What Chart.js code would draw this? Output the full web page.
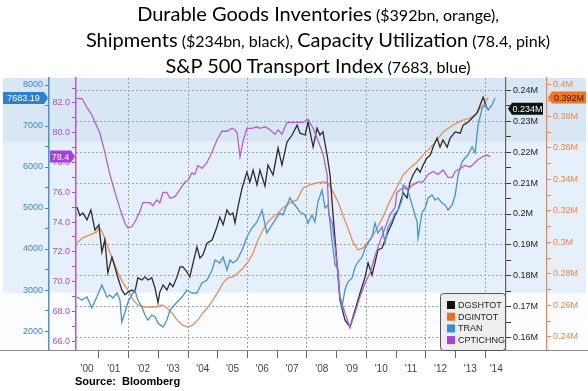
<!DOCTYPE html>
<html>
<head>
<meta charset="utf-8">
<script src="https://cdn.jsdelivr.net/npm/chart.js@4.4.0/dist/chart.umd.min.js"></script>
<style>
html, body { margin: 0; padding: 0; background: #fff; overflow: hidden; }
#wrap { position: relative; width: 588px; height: 391px; }
#chart { position: absolute; left: 0; top: 0; }
#title { position: absolute; left: 48px; top: 1px; width: 540px; text-align: center; white-space: nowrap;
         font-family: Lato, "Open Sans", sans-serif; color: #000; line-height: 25px; }
#title .big { font-size: 20px; }
#title .small { font-size: 16px; }
#source { position: absolute; left: 75px; top: 375px; font: bold 11px "Liberation Sans", Arial, sans-serif; color: #000; }
</style>
</head>
<body>
<div id="wrap">
  <canvas id="chart" width="588" height="391"></canvas>
  <div id="title">
    <div><span class="big">Durable Goods Inventories</span> <span class="small">($392bn, orange),</span></div>
    <div><span class="big">Shipments</span> <span class="small">($234bn, black),</span> <span class="big">Capacity Utilization</span> <span class="small">(78.4, pink)</span></div>
    <div><span class="big">S&amp;P 500 Transport Index</span> <span class="small">(7683, blue)</span></div>
  </div>
  <div id="source">Source:&nbsp; Bloomberg</div>
</div>

<script>
// ----------------------------
// data (dates as decimal years)
// ----------------------------

// DGSHTOT - durable goods shipments, $bn
const shipDates = [
  2000.26, 2000.36, 2000.46, 2000.60, 2000.73, 2000.87, 2001.00, 2001.10, 2001.20, 2001.30,
  2001.44, 2001.54, 2001.64, 2001.77, 2001.88, 2001.98, 2002.11, 2002.21, 2002.31, 2002.45,
  2002.55, 2002.65, 2002.78, 2002.89, 2002.99, 2003.05, 2003.16, 2003.29, 2003.39, 2003.49,
  2003.63, 2003.73, 2003.83, 2003.96, 2004.06, 2004.17, 2004.30, 2004.40, 2004.50, 2004.64,
  2004.81, 2004.97, 2005.07, 2005.18, 2005.31, 2005.41, 2005.51, 2005.58, 2005.68, 2005.82,
  2005.98, 2006.08, 2006.19, 2006.32, 2006.42, 2006.59, 2006.69, 2006.86, 2007.03, 2007.16,
  2007.33, 2007.50, 2007.67, 2007.77, 2007.94, 2008.04, 2008.21, 2008.34, 2008.44, 2008.54,
  2008.68, 2008.78, 2008.88, 2009.01, 2009.11, 2009.28, 2009.45, 2009.62, 2009.79, 2009.96,
  2010.06, 2010.19, 2010.29, 2010.39, 2010.53, 2010.63, 2010.73, 2010.87, 2010.97, 2011.07,
  2011.24, 2011.37, 2011.47, 2011.57, 2011.71, 2011.81, 2011.91, 2012.04, 2012.15, 2012.25,
  2012.38, 2012.48, 2012.58, 2012.72, 2012.82, 2012.99, 2013.16, 2013.26, 2013.39, 2013.56,
  2013.73, 2013.83, 2013.93, 2014.00, 2014.06
];
const shipValues = [
  202.3, 199.5, 200.3, 198.1, 201.3, 194.8, 196.5, 187.7, 191.6, 181.0,
  186.1, 182.9, 179.4, 175.5, 173.9, 174.8, 175.5, 174.8, 179.4, 178.7,
  179.7, 178.7, 179.4, 176.1, 171.3, 174.8, 177.1, 175.5, 177.7, 176.5,
  179.7, 182.9, 182.9, 181.3, 179.7, 184.2, 189.4, 185.8, 186.8, 190.6,
  191.6, 195.8, 199.0, 196.5, 201.3, 199.7, 200.3, 197.1, 202.3, 208.4,
  213.5, 210.3, 214.2, 209.4, 214.2, 209.0, 215.8, 212.6, 221.3, 215.8,
  223.2, 225.5, 228.7, 226.1, 225.5, 229.7, 221.6, 227.7, 225.5, 226.5,
  219.0, 212.6, 199.7, 184.5, 172.3, 165.8, 163.5, 169.0, 174.5, 179.7,
  184.2, 180.3, 184.2, 188.4, 189.0, 191.6, 194.2, 197.1, 199.7, 201.3,
  206.8, 205.2, 210.3, 212.6, 214.8, 213.5, 215.8, 218.1, 219.0, 221.6,
  224.5, 221.6, 223.9, 221.6, 224.5, 226.5, 226.1, 228.7, 229.4, 231.0,
  232.6, 235.2, 237.7, 235.8, 234.0
];

// DGINTOT - durable goods inventories, $bn
const invDates = [
  2000.26, 2000.46, 2000.70, 2000.93, 2001.03, 2001.13, 2001.30, 2001.47, 2001.64, 2001.81,
  2001.98, 2002.15, 2002.31, 2002.55, 2002.78, 2002.95, 2003.12, 2003.29, 2003.46, 2003.63,
  2003.80, 2004.00, 2004.17, 2004.33, 2004.50, 2004.67, 2004.84, 2005.01, 2005.18, 2005.34,
  2005.51, 2005.68, 2005.85, 2006.02, 2006.19, 2006.35, 2006.52, 2006.69, 2006.86, 2007.03,
  2007.19, 2007.43, 2007.67, 2007.87, 2008.10, 2008.34, 2008.54, 2008.71, 2008.88, 2009.05,
  2009.21, 2009.38, 2009.55, 2009.72, 2009.89, 2010.06, 2010.23, 2010.39, 2010.56, 2010.73,
  2010.90, 2011.07, 2011.24, 2011.47, 2011.71, 2011.91, 2012.15, 2012.38, 2012.58, 2012.82,
  2013.05, 2013.26, 2013.49, 2013.66, 2013.83, 2014.00, 2014.10
];
const invValues = [
  299.7, 302.9, 304.8, 306.7, 309.2, 306.0, 297.1, 288.9, 280.6, 274.3,
  269.8, 263.5, 260.3, 259.0, 259.0, 259.0, 260.3, 258.4, 255.2, 250.8,
  247.6, 246.3, 247.6, 250.8, 255.2, 259.0, 263.5, 268.6, 274.3, 277.5,
  278.1, 280.6, 283.8, 287.6, 293.3, 301.6, 307.9, 313.0, 316.2, 318.7,
  321.9, 325.1, 327.0, 334.6, 336.5, 337.8, 338.4, 337.8, 332.1, 325.7,
  317.5, 309.2, 300.3, 295.2, 296.5, 300.3, 304.8, 309.8, 316.2, 323.8,
  330.2, 336.5, 342.9, 347.3, 351.1, 355.6, 360.0, 365.1, 370.2, 373.3,
  375.9, 377.8, 379.0, 381.0, 385.4, 388.6, 392.0
];

// TRAN - S&P 500 transport index
const tranDates = [
  2000.26, 2000.43, 2000.60, 2000.76, 2000.93, 2001.10, 2001.27, 2001.37, 2001.47, 2001.61,
  2001.71, 2001.77, 2001.88, 2001.98, 2002.11, 2002.21, 2002.31, 2002.45, 2002.55, 2002.65,
  2002.78, 2002.89, 2002.99, 2003.16, 2003.29, 2003.39, 2003.49, 2003.63, 2003.80, 2003.96,
  2004.13, 2004.30, 2004.47, 2004.64, 2004.81, 2004.91, 2005.07, 2005.18, 2005.31, 2005.41,
  2005.51, 2005.65, 2005.82, 2005.98, 2006.15, 2006.32, 2006.49, 2006.65, 2006.82, 2006.99,
  2007.09, 2007.19, 2007.43, 2007.53, 2007.60, 2007.77, 2007.94, 2008.04, 2008.17, 2008.27,
  2008.37, 2008.51, 2008.61, 2008.71, 2008.85, 2008.95, 2009.05, 2009.11, 2009.18, 2009.28,
  2009.38, 2009.52, 2009.62, 2009.72, 2009.86, 2009.96, 2010.06, 2010.19, 2010.29, 2010.39,
  2010.53, 2010.63, 2010.73, 2010.87, 2010.97, 2011.07, 2011.20, 2011.24, 2011.37, 2011.47,
  2011.57, 2011.71, 2011.74, 2011.88, 2011.98, 2012.08, 2012.21, 2012.31, 2012.41, 2012.55,
  2012.65, 2012.75, 2012.89, 2012.99, 2013.09, 2013.22, 2013.32, 2013.42, 2013.56, 2013.66,
  2013.76, 2013.90, 2014.00, 2014.10, 2014.23, 2014.33
];
const tranValues = [
  2829, 2756, 2829, 2561, 2829, 3122, 2829, 2878, 2805, 2927,
  2756, 2220, 2463, 2707, 2878, 3000, 2756, 2585, 2390, 2268,
  2390, 2341, 2195, 2098, 2268, 2512, 2585, 2707, 2829, 3000,
  2927, 2927, 3171, 3244, 3488, 3732, 3659, 3805, 3488, 3732,
  3659, 3732, 3976, 4293, 4512, 4659, 4951, 4390, 4585, 4780,
  4878, 4829, 5250, 5122, 5073, 4902, 4829, 4634, 4829, 4659,
  5146, 5439, 5000, 5073, 4171, 3610, 3500, 2829, 2585, 3000,
  3195, 3293, 3561, 3683, 3805, 4024, 4146, 4293, 4634, 4390,
  4537, 4146, 4537, 4707, 4878, 4951, 5195, 5561, 5488, 5244,
  5000, 4659, 4268, 4902, 5000, 5244, 5317, 5195, 5244, 5122,
  5073, 4951, 5073, 5317, 5805, 6122, 6220, 6293, 6488, 6341,
  7024, 7439, 7512, 7390, 7512, 7683.19
];

// CPTICHNG - capacity utilization, %
const capDates = [
  2000.26, 2000.43, 2000.60, 2000.76, 2001.03, 2001.20, 2001.37, 2001.54, 2001.71, 2001.88,
  2001.98, 2002.11, 2002.21, 2002.38, 2002.48, 2002.62, 2002.72, 2002.82, 2002.95, 2003.05,
  2003.16, 2003.29, 2003.39, 2003.56, 2003.73, 2003.90, 2004.00, 2004.13, 2004.23, 2004.33,
  2004.47, 2004.64, 2004.81, 2004.97, 2005.14, 2005.31, 2005.48, 2005.58, 2005.65, 2005.75,
  2005.85, 2005.98, 2006.15, 2006.32, 2006.42, 2006.59, 2006.76, 2006.93, 2007.03, 2007.16,
  2007.33, 2007.50, 2007.70, 2007.87, 2008.04, 2008.21, 2008.37, 2008.54, 2008.68, 2008.74,
  2008.85, 2008.95, 2009.05, 2009.11, 2009.28, 2009.45, 2009.62, 2009.79, 2009.96, 2010.13,
  2010.29, 2010.46, 2010.63, 2010.80, 2010.97, 2011.03, 2011.24, 2011.40, 2011.57, 2011.74,
  2011.91, 2012.08, 2012.25, 2012.41, 2012.58, 2012.75, 2012.89, 2012.99, 2013.16, 2013.32,
  2013.49, 2013.66, 2013.76, 2013.93, 2014.06, 2014.17
];
const capValues = [
  82.3, 82.3, 81.7, 81.2, 80.0, 78.7, 77.2, 76.0, 74.9, 73.9,
  73.6, 73.7, 74.0, 74.7, 75.3, 75.3, 75.3, 75.1, 75.5, 75.3,
  76.0, 76.0, 75.6, 75.7, 76.2, 76.7, 76.8, 77.3, 77.2, 77.8,
  77.6, 78.0, 78.7, 79.5, 80.1, 80.1, 80.3, 80.2, 80.0, 78.4,
  79.4, 80.3, 80.3, 80.4, 80.3, 80.4, 80.2, 79.9, 80.2, 79.9,
  80.7, 80.7, 80.7, 80.7, 80.9, 80.3, 79.5, 78.6, 77.2, 74.5,
  73.9, 72.3, 70.4, 69.0, 67.9, 66.9, 67.9, 69.0, 69.9, 70.6,
  71.7, 72.7, 73.6, 74.5, 75.0, 76.0, 76.3, 76.2, 76.5, 76.7,
  76.7, 77.2, 77.4, 77.2, 77.5, 77.0, 77.0, 77.4, 77.6, 77.8,
  77.7, 78.0, 78.2, 78.4, 78.5, 78.4
];

// axis ticks
const yearTicks = [2001, 2002, 2003, 2004, 2005, 2006, 2007, 2008, 2009, 2010, 2011, 2012, 2013, 2014];
const xLabels = ["'00", "'01", "'02", "'03", "'04", "'05", "'06", "'07", "'08", "'09", "'10", "'11", "'12", "'13", "'14"];
const xLabelPos = [2000.6, 2001.5, 2002.5, 2003.5, 2004.5, 2005.5, 2006.5, 2007.5, 2008.5, 2009.5, 2010.5, 2011.5, 2012.5, 2013.5, 2014.37];
const tranTicks = [2000, 3000, 4000, 5000, 6000, 7000, 8000];
const capTicks = [66, 68, 70, 72, 74, 76, 78, 80, 82];
const shipTicks = [160, 170, 180, 190, 200, 210, 220, 230, 240];
const invTicks = [240, 260, 280, 300, 320, 340, 360, 380, 400];

// ----------------------------
// helpers
// ----------------------------

const toPoints = (dates, values) => dates.map((d, i) => ({ x: d, y: values[i] }));

// majors plus a minor tick half way between
function setTicks(scale, majors) {
  const step = majors[1] - majors[0];
  const out = [];
  majors.forEach(v => {
    out.push({ value: v });
    out.push({ value: v + step / 2 });
  });
  scale.ticks = out.filter(t => t.value >= scale.min && t.value <= scale.max);
}

const tickFont = { family: "Liberation Sans", size: 9 };
const clear = "rgba(0,0,0,0)";

// ----------------------------
// plugins: background bands, value tags, legend box
// ----------------------------

const bands = {
  id: "bands",
  beforeDraw(chart) {
    const { ctx, chartArea: a } = chart;
    const h = a.bottom - a.top;
    ctx.save();
    ctx.fillStyle = "#d9e7f4";
    ctx.fillRect(3, a.top, 583, h * 0.235);
    ctx.fillStyle = "#e6f0fa";
    ctx.fillRect(3, a.top + h * 0.235, 583, h * 0.555);
    ctx.fillStyle = "#fbfdff";
    ctx.fillRect(3, a.top + h * 0.79, 583, h * 0.21);
    ctx.restore();
  },
  afterDraw(chart) {
    const { ctx, chartArea: a } = chart;
    ctx.save();
    ctx.strokeStyle = "#8a8a8a";
    ctx.lineWidth = 1;
    ctx.beginPath();
    ctx.moveTo(0, a.bottom + 0.5);
    ctx.lineTo(588, a.bottom + 0.5);
    ctx.stroke();
    ctx.restore();
  }
};

function tag(ctx, text, tip, far, y, fill, color) {
  const h = 12, p = 4, dir = far < tip ? -1 : 1;
  ctx.save();
  ctx.fillStyle = fill;
  ctx.beginPath();
  ctx.moveTo(tip, y);
  ctx.lineTo(tip + dir * p, y - h / 2);
  ctx.lineTo(far, y - h / 2);
  ctx.lineTo(far, y + h / 2);
  ctx.lineTo(tip + dir * p, y + h / 2);
  ctx.closePath();
  ctx.fill();
  ctx.fillStyle = color;
  ctx.font = "9px 'Liberation Sans'";
  ctx.textAlign = "center";
  ctx.textBaseline = "middle";
  ctx.fillText(text, (tip + dir * p + far) / 2, y + 0.5);
  ctx.restore();
}

const tags = {
  id: "tags",
  afterDraw(chart) {
    const ctx = chart.ctx, s = chart.scales;
    const lastTran = tranValues[tranValues.length - 1];
    const lastCap = capValues[capValues.length - 1];
    const lastShip = shipValues[shipValues.length - 1];
    const lastInv = invValues[invValues.length - 1];
    tag(ctx, lastTran.toFixed(2), s.yTran.right - 1, s.yTran.left, s.yTran.getPixelForValue(lastTran), "#2c80d8", "#fff");
    tag(ctx, lastCap.toFixed(1), s.yCap.right - 1, s.yCap.left + 1, s.yCap.getPixelForValue(lastCap), "#a63fe0", "#fff");
    tag(ctx, (lastShip / 1000) + "M", s.yShip.left + 2, s.yShip.left + 37, s.yShip.getPixelForValue(lastShip), "#111", "#fff");
    tag(ctx, (lastInv / 1000) + "M", s.yInv.left + 1, s.yInv.left + 39, s.yInv.getPixelForValue(lastInv), "#f0781c", "#3a1400");
  }
};

const legendColors = ["#111111", "#ec6f1c", "#2f8fe6", "#a83fe0"];

const legendBox = {
  id: "legendBox",
  afterDraw(chart) {
    const { ctx, chartArea: a } = chart;
    const w = 66, h = 57;
    const x = a.right - w, y = a.bottom - h;
    ctx.save();
    ctx.fillStyle = "#eeeeee";
    ctx.strokeStyle = "#555";
    ctx.lineWidth = 1;
    ctx.beginPath();
    ctx.roundRect(x + 0.5, y + 0.5, w - 1, h, 3);
    ctx.fill();
    ctx.stroke();
    ctx.font = "9px 'Liberation Sans'";
    ctx.textBaseline = "middle";
    chart.data.datasets.forEach((ds, i) => {
      const cy = y + 12 + i * 11.7;
      ctx.fillStyle = legendColors[i];
      ctx.fillRect(x + 7, cy - 4, 8, 8);
      ctx.fillStyle = "#222";
      ctx.fillText(ds.label, x + 18, cy + 0.5);
    });
    ctx.restore();
  }
};

// ----------------------------
// chart
// ----------------------------

new Chart(document.getElementById("chart"), {
  type: "line",
  data: {
    datasets: [
      { label: "DGSHTOT", data: toPoints(shipDates, shipValues), yAxisID: "yShip", borderColor: "#2b2b2b", order: 2 },
      { label: "DGINTOT", data: toPoints(invDates, invValues), yAxisID: "yInv", borderColor: "#e58e52", order: 3 },
      { label: "TRAN", data: toPoints(tranDates, tranValues), yAxisID: "yTran", borderColor: "#3f95da", order: 1 },
      { label: "CPTICHNG", data: toPoints(capDates, capValues), yAxisID: "yCap", borderColor: "#b35ed8", order: 0 }
    ]
  },
  options: {
    responsive: false,
    animation: false,
    events: [],
    layout: { padding: { left: 3, right: 0, top: 78, bottom: 13 } },
    elements: { point: { radius: 0 }, line: { borderWidth: 1.3, tension: 0 } },
    plugins: { legend: { display: false }, tooltip: { enabled: false } },
    scales: {
      x: {
        type: "linear", min: 2000.23, max: 2014.7, bounds: "data",
        afterBuildTicks: s => {
          s.ticks = yearTicks.concat(xLabelPos).sort((a, b) => a - b).map(v => ({ value: v }));
        },
        afterFit: s => { s.height = 28; },
        ticks: {
          autoSkip: false, maxRotation: 0, padding: 5, color: "#444",
          font: { family: "Liberation Sans", size: 10 },
          callback: v => { const i = xLabelPos.indexOf(v); return i >= 0 ? xLabels[i] : ""; }
        },
        grid: {
          tickLength: 8,
          color: c => (c.tick && yearTicks.includes(c.tick.value) && c.tick.value % 2 === 0) ? "#9aa2aa" : clear,
          tickColor: c => (c.tick && yearTicks.includes(c.tick.value)) ? "#666" : clear
        },
        border: { color: "#8a8a8a", dash: [2, 2] }
      },
      yCap: {
        position: "left", weight: 0, min: 65.4, max: 83.68, bounds: "data",
        afterBuildTicks: s => setTicks(s, capTicks),
        afterFit: s => { s.width = 27; },
        ticks: { autoSkip: false, padding: 2, color: "#a550c8", font: tickFont,
                 callback: v => capTicks.includes(v) ? v.toFixed(1) : "" },
        grid: { drawOnChartArea: false, tickLength: 4, tickColor: "#a550c8" },
        border: { color: "#b25ad6", width: 1.5 }
      },
      yTran: {
        position: "left", weight: 1, min: 1537, max: 8171, bounds: "data",
        afterBuildTicks: s => setTicks(s, tranTicks),
        afterFit: s => { s.width = 46; },
        ticks: { autoSkip: false, padding: 2, color: "#3d87d6", font: tickFont,
                 callback: v => tranTicks.includes(v) ? String(v) : "" },
        grid: { drawOnChartArea: false, tickLength: 4, tickColor: "#3d87d6" },
        border: { color: "#4a90dc", width: 1.5 }
      },
      yShip: {
        position: "right", weight: 0, min: 156.1, max: 243.9, bounds: "data",
        afterBuildTicks: s => setTicks(s, shipTicks),
        afterFit: s => { s.width = 41; },
        ticks: { autoSkip: false, padding: 2, color: "#222", font: tickFont,
                 callback: v => shipTicks.includes(v) ? (v / 1000) + "M" : "" },
        grid: {
          tickLength: 5, tickColor: "#333",
          color: c => (c.tick && shipTicks.includes(c.tick.value)) ? "#9aa2aa" : clear
        },
        border: { color: "#666", width: 1.2, dash: [2, 2] }
      },
      yInv: {
        position: "right", weight: 1, min: 231.7, max: 404.4, bounds: "data",
        afterBuildTicks: s => setTicks(s, invTicks),
        afterFit: s => { s.width = 41; },
        ticks: { autoSkip: false, padding: 2, color: "#e8874a", font: tickFont,
                 callback: v => invTicks.includes(v) ? (v / 1000) + "M" : "" },
        grid: { drawOnChartArea: false, tickLength: 4, tickColor: "#e8874a" },
        border: { color: "#e8874a", width: 1.2 }
      }
    }
  },
  plugins: [bands, tags, legendBox]
});
</script>
</body>
</html>
